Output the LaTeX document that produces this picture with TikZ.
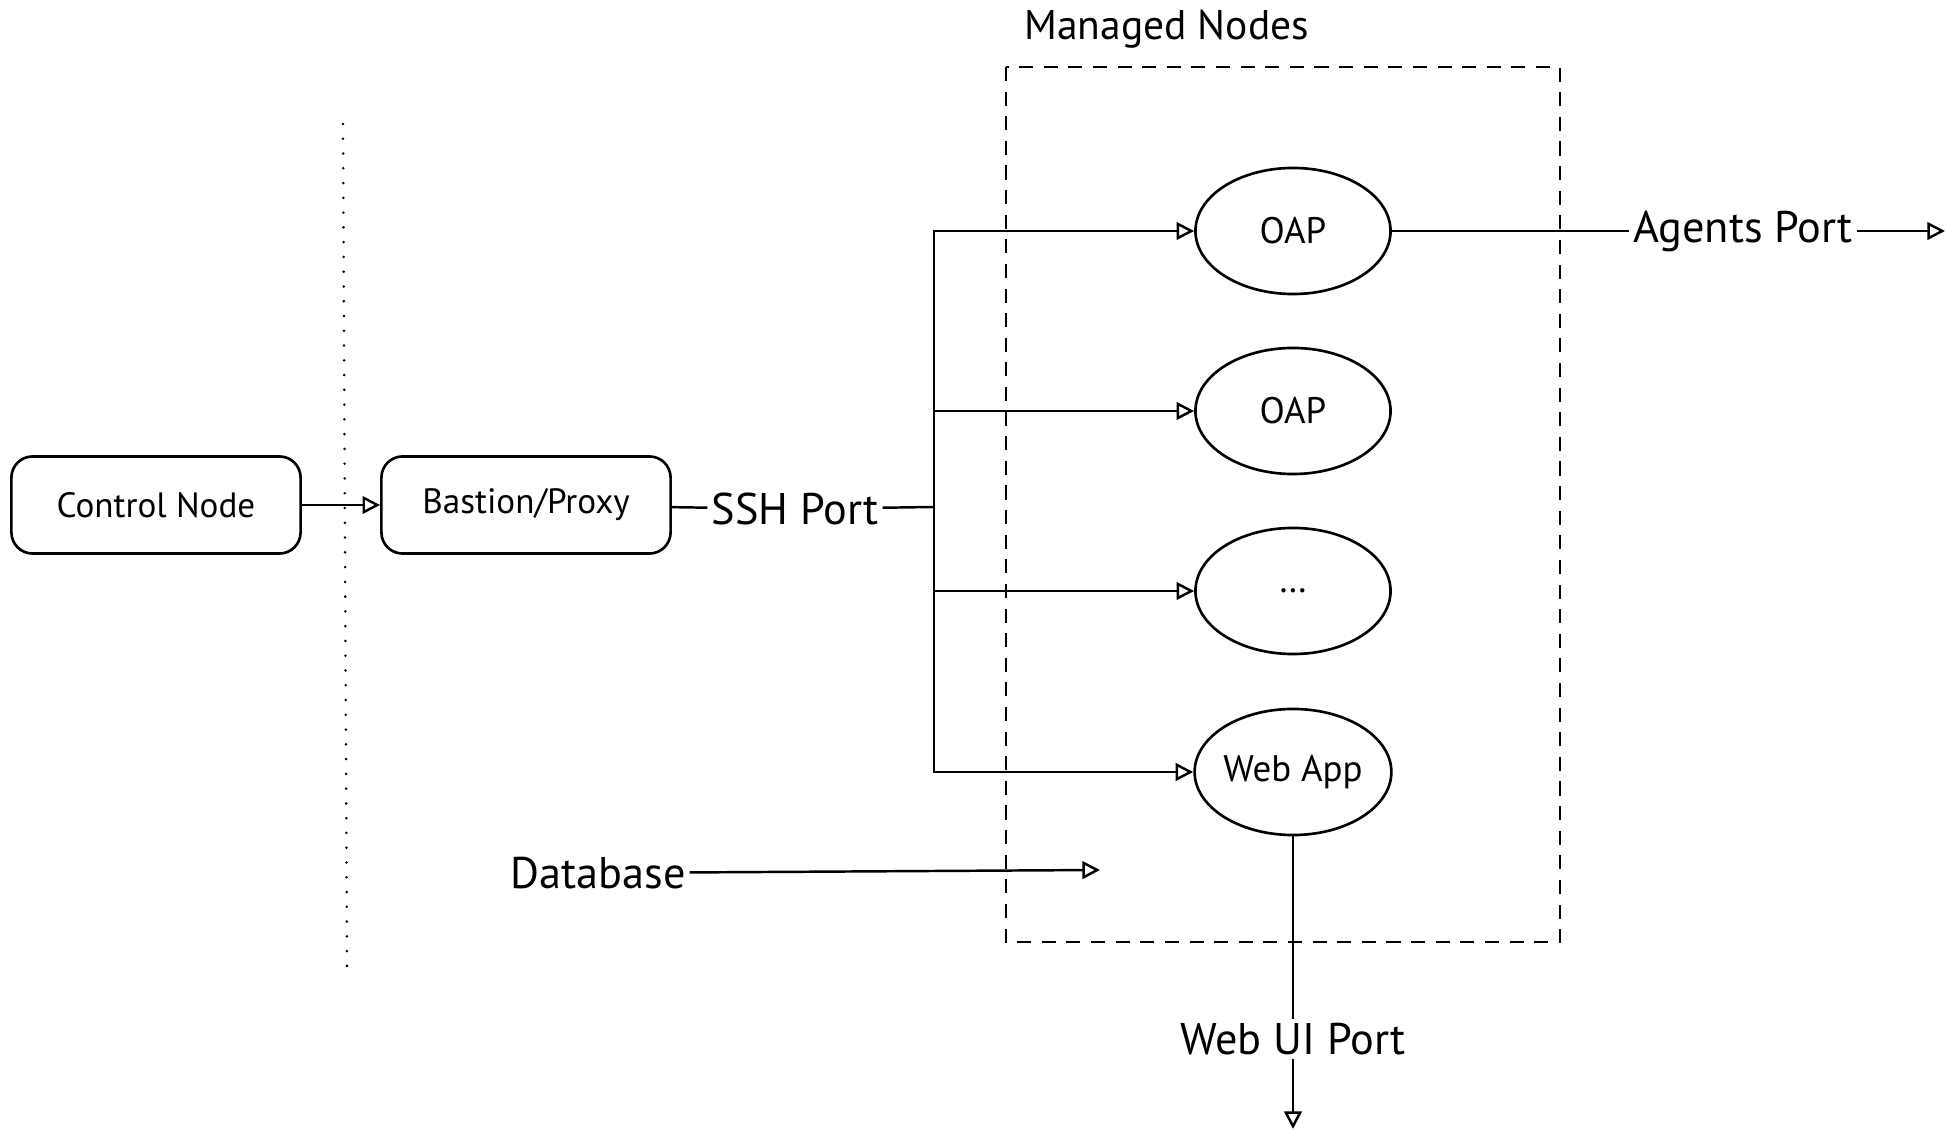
\documentclass[tikz,border=0pt]{standalone}
\usepackage{fontspec}
\setmainfont{PT Sans}
\usetikzlibrary{arrows.meta,shapes.geometric}

\tikzset{
    box/.style={draw, line width=0.75pt, rounded corners=6pt, minimum width=2.89cm, minimum height=0.97cm, font=\fontsize{10}{12}\selectfont},
    vm/.style={draw, line width=0.75pt, ellipse, inner sep=0pt, minimum width=1.95cm, minimum height=1.26cm, font=\fontsize{10.5}{12}\selectfont},
    port/.style={fill=white, inner sep=1pt, font=\fontsize{12.6}{15}\selectfont},
    link/.style={line width=0.7pt, -{Triangle[open, length=5pt, width=5pt]}},
}

\begin{document}
\begin{tikzpicture}[x=0.01cm, y=-0.01cm]
        \useasboundingbox (0,0) rectangle (1947,1131);

        % control side
        \node[box] (control) at (156,505) {Control Node};
        \node[box] (bastion) at (526,505) {Bastion/Proxy};
        \draw[thick, line cap=round, dash pattern=on 0pt off 4.2pt] (343,124) -- (347,966);
        \draw[link] (control) -- (bastion);

        \node[port] (ssh) at (795,509) {SSH Port};
        \draw[line width=0.7pt] (bastion) -- (ssh);

        % managed nodes
        \draw[line width=0.7pt, dash pattern=on 4pt off 3pt] (1006,67) rectangle (1560,942);
        \node[anchor=west, font=\fontsize{11.8}{14}\selectfont] (managed) at (1012,29) {Managed Nodes};

        \foreach \n/\t/\y in {oap1/OAP/231, oap2/OAP/411, more/{\dots}/591, web/Web App/772} {
            \node[vm] (\n) at (1293,\y) {\t};
        }

        \coordinate (bus) at (934,507);
        \draw[line width=0.7pt] (ssh) -- (bus);
        \foreach \n in {oap1,oap2,more,web} {
            \draw[link] (bus) |- (\n);
        }

        % ports
        \node[port] (agents) at (1743,231) {Agents Port};
        \coordinate (agentsend) at (1945,231);
        \draw[line width=0.7pt] (oap1) -- (agents);
        \draw[link] (agents) -- (agentsend);

        \node[port] (db) at (598,873) {Database};
        \coordinate (dbend) at (1100,870);
        \draw[link] (db) -- (dbend);

        \node[port] (webui) at (1293,1039) {Web UI Port};
        \coordinate (webuiend) at (1293,1129);
        \draw[line width=0.7pt] (web) -- (webui);
        \draw[link] (webui) -- (webuiend);
    \end{tikzpicture}
\end{document}
